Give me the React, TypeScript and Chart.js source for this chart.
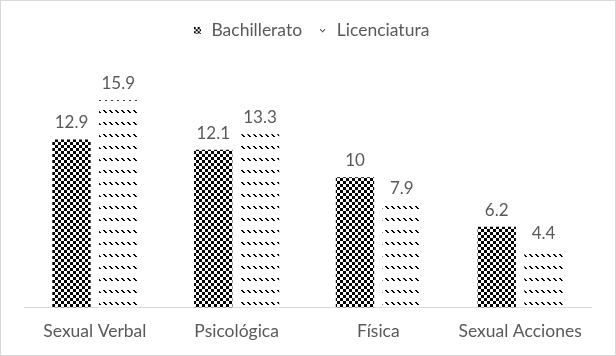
import React, { useEffect, useRef } from "react";
import { Chart, registerables } from "chart.js";

Chart.register(...registerables);

const categories = ["Sexual Verbal", "Psicológica", "Física", "Sexual Acciones"];
const seriesNames = ["Bachillerato", "Licenciatura"];
const bachillerato = [12.9, 12.1, 10, 6.2];
const licenciatura = [15.9, 13.3, 7.9, 4.4];

const TEXT = "#595959";
const FONT = "Lato";

function checkerTile(): HTMLCanvasElement {
  const c = document.createElement("canvas");
  const s = 3;
  c.width = s * 2;
  c.height = s * 2;
  const ctx = c.getContext("2d")!;
  ctx.fillStyle = "#fff";
  ctx.fillRect(0, 0, c.width, c.height);
  ctx.fillStyle = "#000";
  ctx.fillRect(0, 0, s, s);
  ctx.fillRect(s, s, s, s);
  return c;
}

function dashTile(): HTMLCanvasElement {
  const c = document.createElement("canvas");
  c.width = 6;
  c.height = 12;
  const ctx = c.getContext("2d")!;
  ctx.fillStyle = "#fff";
  ctx.fillRect(0, 0, c.width, c.height);
  ctx.fillStyle = "#000";
  ctx.fillRect(0, 1, 2, 1);
  ctx.fillRect(1, 2, 2, 1);
  ctx.fillRect(2, 3, 2, 1);
  return c;
}

function legendChecker(): HTMLCanvasElement {
  const c = document.createElement("canvas");
  c.width = 7;
  c.height = 7;
  const ctx = c.getContext("2d")!;
  ctx.fillStyle = "#fff";
  ctx.fillRect(0, 0, 7, 7);
  ctx.fillStyle = "#000";
  for (let y = 0; y < 7; y += 1) {
    for (let x = 0; x < 7; x += 1) {
      if ((Math.floor(x / 2) + Math.floor(y / 2)) % 2 === 0) ctx.fillRect(x, y, 1, 1);
    }
  }
  return c;
}

function legendDash(): HTMLCanvasElement {
  const c = document.createElement("canvas");
  c.width = 7;
  c.height = 7;
  const ctx = c.getContext("2d")!;
  ctx.fillStyle = "#000";
  ctx.fillRect(1, 2, 1, 1);
  ctx.fillRect(2, 3, 1, 1);
  ctx.fillRect(3, 4, 1, 1);
  ctx.fillRect(4, 3, 1, 1);
  ctx.fillRect(5, 2, 1, 1);
  return c;
}

const valueLabels = {
  id: "valueLabels",
  afterDatasetsDraw(chart: any) {
    const ctx = chart.ctx;
    ctx.save();
    ctx.fillStyle = TEXT;
    ctx.font = `17px ${FONT}`;
    ctx.textAlign = "center";
    ctx.textBaseline = "alphabetic";
    chart.data.datasets.forEach((ds: any, i: number) => {
      const meta = chart.getDatasetMeta(i);
      meta.data.forEach((bar: any, j: number) => {
        ctx.fillText(String(ds.data[j]), bar.x, bar.y - 11);
      });
    });
    ctx.restore();
  },
};

const legendShift = {
  id: "legendShift",
  afterLayout(chart: any) {
    if (chart.legend) {
      chart.legend.left += 3;
      chart.legend.right += 3;
    }
  },
};

export default function App() {
  const ref = useRef<HTMLCanvasElement | null>(null);
  useEffect(() => {
    document.body.style.margin = "0";
    if (!ref.current) return;
    const ctx0 = ref.current.getContext("2d")!;
    const checkerPat = ctx0.createPattern(checkerTile(), "repeat");
    const dashPat = ctx0.createPattern(dashTile(), "repeat");
    const legendImgs = [legendChecker(), legendDash()];
    const chart = new Chart(ref.current, {
      type: "bar",
      data: {
        labels: categories,
        datasets: [
          { label: seriesNames[0], data: bachillerato, backgroundColor: checkerPat as any, borderWidth: 0 },
          { label: seriesNames[1], data: licenciatura, backgroundColor: dashPat as any, borderWidth: 0 },
        ],
      },
      options: {
        animation: false,
        responsive: false,
        maintainAspectRatio: false,
        datasets: { bar: { categoryPercentage: 0.66, barPercentage: 0.82 } },
        layout: { padding: { left: 23, right: 24, top: 6, bottom: 0 } },
        plugins: {
          legend: {
            position: "top",
            labels: {
              color: TEXT,
              font: { family: FONT, size: 17.5 },
              usePointStyle: true,
              boxWidth: 11,
              boxHeight: 7,
              padding: 15,
              generateLabels: (chart: any) => {
                const items = (Chart.defaults.plugins.legend.labels as any).generateLabels(chart);
                items.forEach((it: any, i: number) => {
                  it.pointStyle = legendImgs[i];
                });
                return items;
              },
            },
          },
          tooltip: { enabled: false },
        },
        scales: {
          x: {
            grid: { display: false, drawTicks: false },
            border: { display: true, color: "#d9d9d9", width: 1 },
            ticks: { color: TEXT, font: { family: FONT, size: 17.5, lineHeight: 1 }, padding: 15 },
          },
          y: { display: false, min: 0, max: 19.8 },
        },
      },
      plugins: [valueLabels, legendShift],
    });
    return () => chart.destroy();
  }, []);
  return (
    <div style={{ width: 616, height: 356, boxSizing: "border-box", border: "1px solid #d9d9d9", background: "#fff" }}>
      <canvas ref={ref} width={614} height={354} style={{ display: "block" }} />
    </div>
  );
}
